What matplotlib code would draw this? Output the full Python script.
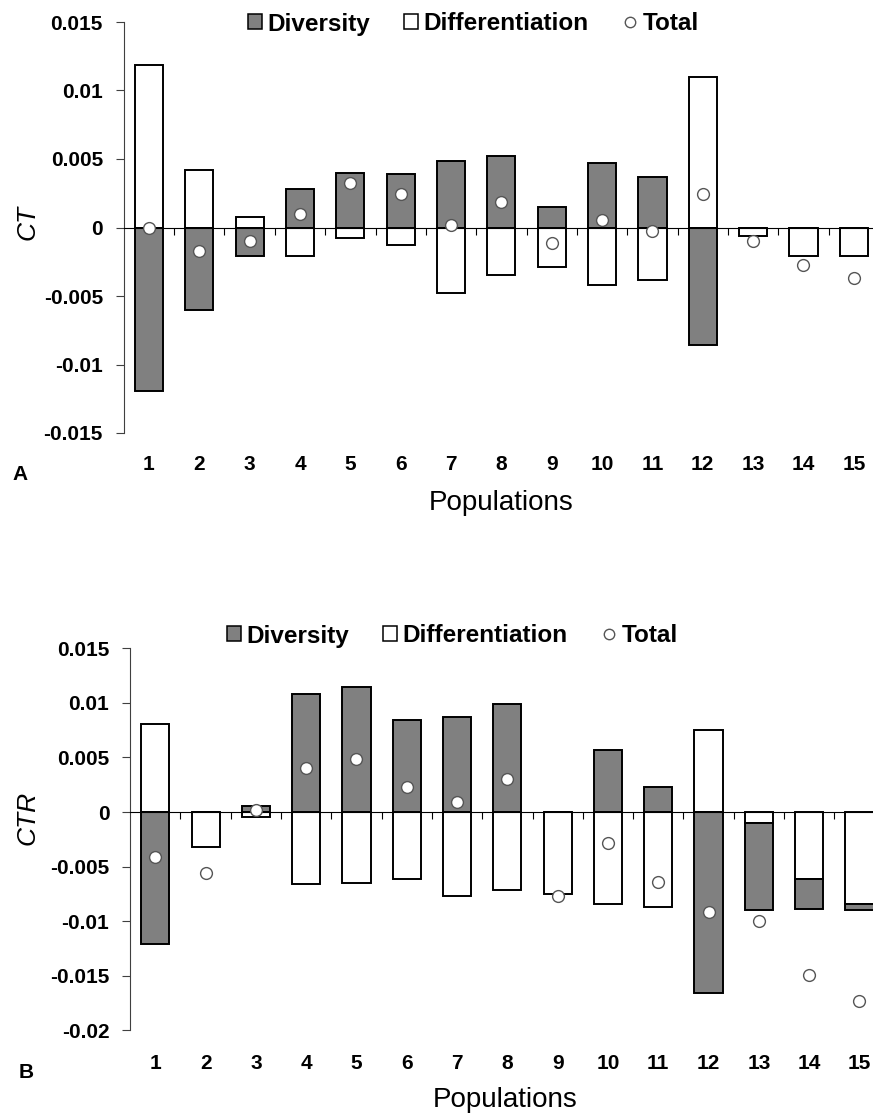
import numpy as np
import matplotlib
matplotlib.use('Agg')
import matplotlib.pyplot as plt
from matplotlib.patches import Patch
from matplotlib.lines import Line2D

plt.rcParams['font.family'] = ['Liberation Sans', 'DejaVu Sans']

populations = list(range(1, 16))

# panel A: CT
ct_diversity = [-0.01193, -0.00602, -0.00207, 0.00283, 0.0040, 0.00388, 0.00485, 0.0052,
                0.00151, 0.00471, 0.0037, -0.00859, 0.0, 0.0, 0.0]
ct_differentiation = [0.01185, 0.00417, 0.0008, -0.00207, -0.00076, -0.00129, -0.00478, -0.00346,
                      -0.0029, -0.00417, -0.00383, 0.01102, -0.00059, -0.00207, -0.00207]
ct_total = [0.0, -0.00173, -0.001, 0.001, 0.00324, 0.00241, 0.00015, 0.00185,
            -0.00115, 0.00056, -0.00029, 0.00244, -0.001, -0.00271, -0.00371]
ct_yticks = [-0.015, -0.01, -0.005, 0.0, 0.005, 0.01, 0.015]

# panel B: CTR
ctr_diversity = [-0.0121, 0.0, 0.00058, 0.01084, 0.0115, 0.00844, 0.00873, 0.0099,
                 0.0, 0.00568, 0.0023, -0.01656, -0.008, -0.00273, -0.00056]
ctr_differentiation = [0.00805, -0.00325, -0.00042, -0.00656, -0.00646, -0.00617, -0.00773, -0.00714,
                       -0.00753, -0.0084, -0.0087, 0.00747, -0.001, -0.00617, -0.0084]
ctr_total = [-0.00416, -0.00555, 0.0002, 0.004, 0.00487, 0.0023, 0.00088, 0.00302,
             -0.00766, -0.00286, -0.0064, -0.00916, -0.01, -0.01497, -0.01727]
ctr_yticks = [-0.02, -0.015, -0.01, -0.005, 0.0, 0.005, 0.01, 0.015]

W, H = 873, 1116
fig = plt.figure(figsize=(W / 100, H / 100), dpi=100)


def draw_panel(rect, diversity, differentiation, total, yticks, label_pad):
    ax = fig.add_axes(rect)
    x = np.array(populations)
    diff = np.array(differentiation)
    div = np.array(diversity)
    # differentiation sits on the axis, diversity is stacked on the same side
    pos_base = np.where(diff > 0, diff, 0)
    neg_base = np.where(diff < 0, diff, 0)
    div_bottom = np.where(div >= 0, pos_base, neg_base)
    ax.bar(x, diff, width=0.56, color='white', edgecolor='black', linewidth=1.4, zorder=2)
    ax.bar(x, div, bottom=div_bottom, width=0.56, color='#808080', edgecolor='black',
           linewidth=1.4, zorder=2)
    ax.plot(x, total, 'o', ms=8.5, mfc='white', mec='#555555', mew=1, zorder=4)

    ax.set_xlim(0.5, 15.5)
    ax.set_ylim(yticks[0], yticks[-1])
    ax.set_yticks(yticks)
    ax.set_yticklabels([f'{v:g}' for v in yticks], fontweight='bold', fontsize=15)
    ax.tick_params(axis='y', direction='out', length=5.5, width=0.8, color='#404040', pad=9.5)

    for s in ['top', 'right']:
        ax.spines[s].set_visible(False)
    ax.spines['left'].set_color('#404040')
    ax.spines['left'].set_linewidth(0.8)
    ax.spines['bottom'].set_position(('data', 0))
    ax.spines['bottom'].set_color('black')
    ax.spines['bottom'].set_linewidth(0.8)

    ax.set_xticks([])
    ax.set_xticks(x[:-1] + 0.5, minor=True)
    ax.tick_params(axis='x', which='minor', direction='out', length=5, width=0.8, color='black')

    sec = ax.secondary_xaxis('bottom')
    sec.set_xticks(populations, labels=[str(p) for p in populations], fontweight='bold', fontsize=15)
    sec.tick_params(length=0, pad=label_pad)
    sec.spines['bottom'].set_visible(False)
    return ax


def px_rect(left, top, right, bottom):
    return [left / W, 1 - bottom / H, (right - left) / W, (bottom - top) / H]


ax_a = draw_panel(px_rect(123.8, 22, 879, 433), ct_diversity, ct_differentiation, ct_total,
                  ct_yticks, 15.5)
ax_b = draw_panel(px_rect(130.15, 648.3, 884.6, 1030.3), ctr_diversity, ctr_differentiation,
                  ctr_total, ctr_yticks, 17)


def legend_at(x0, yc):
    handles = [Patch(facecolor='#808080', edgecolor='black', lw=1.1, label='Diversity'),
               Patch(facecolor='white', edgecolor='black', lw=1.1, label='Differentiation'),
               Line2D([], [], ls='none', marker='o', ms=7.5, mfc='white', mec='#555555',
                      mew=1, label='Total')]
    fig.legend(handles=handles, loc='center left', bbox_to_anchor=(x0 / W, 1 - yc / H),
               ncol=3, frameon=False, prop={'weight': 'bold', 'size': 17.5},
               handlelength=0.58, handleheight=0.58, handletextpad=0.22,
               columnspacing=1.4, borderpad=0, borderaxespad=0)


legend_at(248, 24)
legend_at(227, 636)

fig.text(28 / W, 1 - 222.5 / H, 'CT', rotation=90, ha='center', va='center',
         fontsize=19, style='italic')
fig.text(28 / W, 1 - 817.5 / H, 'CTR', rotation=90, ha='center', va='center',
         fontsize=19, style='italic')
fig.text(501 / W, 1 - 503 / H, 'Populations', ha='center', va='center', fontsize=20)
fig.text(505 / W, 1 - 1100 / H, 'Populations', ha='center', va='center', fontsize=20)
fig.text(20 / W, 1 - 475 / H, 'A', ha='center', va='center', fontsize=15, fontweight='bold')
fig.text(26 / W, 1 - 1073 / H, 'B', ha='center', va='center', fontsize=15, fontweight='bold')

fig.savefig('out.png', dpi=100)
